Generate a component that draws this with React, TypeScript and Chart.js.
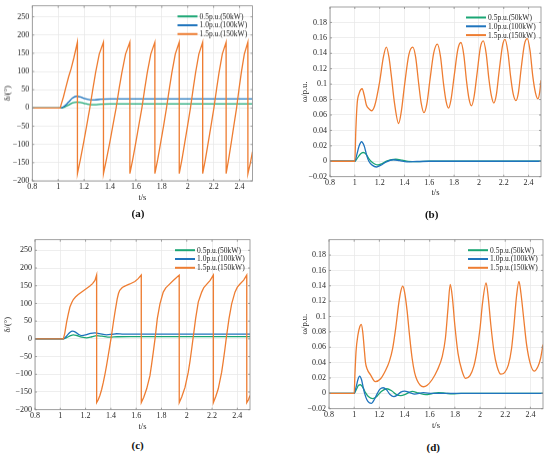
import React, { useEffect, useRef } from "react";
import { Chart, registerables } from "chart.js";

Chart.register(...registerables);

type Pt = [number, number];

const seriesNames = ["0.5p.u.(50kW)", "1.0p.u.(100kW)", "1.5p.u.(150kW)"];
const seriesColors = ["#1ba674", "#1f74bd", "#ee7d32"];

const xTicks = [0.8, 1, 1.2, 1.4, 1.6, 1.8, 2, 2.2, 2.4];
const deltaTicks = [-200, -150, -100, -50, 0, 50, 100, 150, 200, 250];
const omegaTicks = [-0.02, 0, 0.02, 0.04, 0.06, 0.08, 0.1, 0.12, 0.14, 0.16, 0.18];

// (a) power angle
const aGreen: Pt[] = [
  [0.8, 0], [1.02, 0], [1.05, 3], [1.08, 8], [1.11, 13.5], [1.14, 16], [1.17, 15], [1.2, 12.5],
  [1.24, 9.5], [1.28, 9], [1.33, 10.2], [1.4, 11], [1.6, 11], [2.5, 11],
];
const aBlue: Pt[] = [
  [0.8, 0], [1.02, 0], [1.05, 6], [1.08, 16], [1.11, 27], [1.14, 32], [1.17, 30.5], [1.2, 26],
  [1.24, 22.5], [1.28, 22], [1.33, 24], [1.4, 25], [1.6, 25], [2.5, 25],
];
const aOrange: Pt[] = [
  [0.8, 0], [1.015, 0], [1.04, 30], [1.06, 58], [1.08, 85], [1.1, 108], [1.12, 136], [1.148, 180],
  [1.1485, -180], [1.172, -140], [1.196, -95], [1.22, -48], [1.244, 0], [1.269, 55], [1.289, 98], [1.317, 148], [1.349, 180],
  [1.3495, -180], [1.373, -140], [1.398, -95], [1.422, -48], [1.447, 0], [1.471, 55], [1.492, 98], [1.52, 148], [1.553, 180],
  [1.5535, -180], [1.576, -140], [1.599, -95], [1.622, -48], [1.646, 0], [1.669, 55], [1.688, 98], [1.715, 148], [1.746, 180],
  [1.7465, -180], [1.769, -140], [1.791, -95], [1.814, -48], [1.836, 0], [1.859, 55], [1.878, 98], [1.904, 148], [1.934, 180],
  [1.9345, -180], [1.956, -140], [1.977, -95], [1.999, -48], [2.021, 0], [2.043, 55], [2.061, 98], [2.086, 148], [2.115, 180],
  [2.1155, -180], [2.137, -140], [2.158, -95], [2.18, -48], [2.202, 0], [2.224, 55], [2.242, 98], [2.267, 148], [2.296, 180],
  [2.2965, -180], [2.316, -140], [2.336, -95], [2.356, -48], [2.377, 0], [2.397, 55], [2.414, 98], [2.437, 148], [2.464, 180],
  [2.4645, -180], [2.484, -150], [2.5, -120],
];

// (b) angular frequency
const bGreen: Pt[] = [
  [0.8, 0], [1.0, 0], [1.02, 0.004], [1.045, 0.0095], [1.067, 0.0114], [1.09, 0.0095], [1.11, 0.004],
  [1.13, 0], [1.16, -0.0035], [1.187, -0.0048], [1.22, -0.003], [1.26, 0.0005], [1.33, 0.0026],
  [1.38, 0.0015], [1.43, 0], [1.5, -0.0005], [1.6, 0], [2.5, 0],
];
const bBlue: Pt[] = [
  [0.8, 0], [1.0, 0], [1.015, 0.008], [1.035, 0.02], [1.054, 0.0253], [1.075, 0.02], [1.095, 0.008],
  [1.113, 0], [1.14, -0.005], [1.174, -0.0074], [1.21, -0.005], [1.25, -0.001], [1.31, 0.002],
  [1.36, 0.0008], [1.42, -0.0008], [1.5, -0.0003], [1.6, 0], [2.5, 0],
];
const bOrange: Pt[] = [
  [0.8, 0], [1.0, 0], [1.008, 0.04], [1.019, 0.075], [1.035, 0.088], [1.059, 0.094], [1.075, 0.086],
  [1.093, 0.073], [1.115, 0.068], [1.134, 0.0655], [1.16, 0.072], [1.2, 0.103], [1.23, 0.135],
  [1.254, 0.148], [1.275, 0.135], [1.294, 0.111], [1.32, 0.075], [1.353, 0.049], [1.375, 0.065],
  [1.4, 0.098], [1.435, 0.138], [1.467, 0.148], [1.49, 0.135], [1.515, 0.1], [1.535, 0.075],
  [1.557, 0.063], [1.58, 0.074], [1.605, 0.105], [1.635, 0.14], [1.665, 0.152], [1.69, 0.136],
  [1.715, 0.1], [1.735, 0.078], [1.755, 0.069], [1.775, 0.08], [1.8, 0.11], [1.83, 0.145],
  [1.855, 0.154], [1.878, 0.138], [1.9, 0.104], [1.92, 0.081], [1.94, 0.072], [1.96, 0.083],
  [1.985, 0.114], [2.012, 0.148], [2.035, 0.156], [2.058, 0.14], [2.08, 0.107], [2.1, 0.085],
  [2.12, 0.0755], [2.14, 0.086], [2.163, 0.117], [2.19, 0.15], [2.21, 0.158], [2.233, 0.142],
  [2.255, 0.11], [2.275, 0.088], [2.298, 0.0786], [2.318, 0.089], [2.34, 0.12], [2.367, 0.152],
  [2.39, 0.159], [2.412, 0.143], [2.434, 0.11], [2.455, 0.089], [2.475, 0.081], [2.49, 0.09], [2.5, 0.105],
];

// (c) power angle
const cGreen: Pt[] = [
  [0.8, 0], [1.024, 0], [1.05, 3.5], [1.08, 9], [1.103, 11.3], [1.13, 9.5], [1.17, 5], [1.208, 2.8],
  [1.25, 6], [1.287, 9], [1.33, 7.5], [1.392, 4.7], [1.45, 6], [1.55, 6.3], [2.5, 6.3],
];
const cBlue: Pt[] = [
  [0.8, 0], [1.024, 0], [1.05, 8], [1.075, 18], [1.097, 21.7], [1.12, 19], [1.145, 12.5], [1.168, 9.4],
  [1.2, 11], [1.24, 15.5], [1.274, 17], [1.31, 15], [1.366, 11.5], [1.41, 13], [1.445, 14.5],
  [1.5, 13.5], [1.6, 13.5], [2.5, 13.5],
];
const cOrange: Pt[] = [
  [0.8, 0], [1.024, 0], [1.035, 15], [1.05, 47], [1.063, 70], [1.076, 90], [1.09, 102], [1.103, 111],
  [1.12, 118], [1.142, 125], [1.18, 135], [1.21, 143], [1.234, 149], [1.255, 156], [1.274, 165], [1.287, 180],
  [1.2875, -180], [1.3, -172], [1.313, -160], [1.327, -143], [1.34, -123], [1.353, -100], [1.366, -75],
  [1.379, -47], [1.392, -19], [1.405, 10], [1.418, 42], [1.432, 75], [1.45, 113], [1.46, 128], [1.47, 137],
  [1.49, 145], [1.51, 149], [1.55, 155], [1.59, 162], [1.616, 170], [1.64, 180],
  [1.6405, -180], [1.66, -165], [1.683, -141], [1.709, -104], [1.722, -72], [1.735, -38], [1.749, 0],
  [1.767, 57], [1.788, 99], [1.814, 132], [1.834, 144], [1.854, 151], [1.893, 165], [1.915, 172], [1.94, 180],
  [1.9405, -180], [1.96, -164], [1.986, -137], [2.012, -94], [2.026, -62], [2.039, -28], [2.051, 5],
  [2.07, 57], [2.091, 104], [2.118, 132], [2.135, 145], [2.157, 154], [2.185, 165], [2.21, 180],
  [2.2105, -180], [2.23, -162], [2.249, -141], [2.276, -94], [2.289, -62], [2.302, -28], [2.315, 9],
  [2.334, 57], [2.355, 99], [2.381, 132], [2.4, 146], [2.421, 155], [2.45, 166], [2.474, 180],
  [2.4745, -180], [2.488, -172], [2.5, -160],
];

// (d) angular frequency
const dGreen: Pt[] = [
  [0.8, 0], [1.0, 0], [1.02, 0.006], [1.035, 0.0105], [1.05, 0.0112], [1.07, 0.0075], [1.09, 0.001],
  [1.115, -0.0045], [1.148, -0.0069], [1.18, -0.004], [1.215, 0.0025], [1.26, 0.006], [1.3, 0.003],
  [1.335, -0.0015], [1.37, -0.003], [1.41, -0.001], [1.46, 0.0026], [1.51, 0.0005], [1.57, -0.0018],
  [1.62, -0.0002], [1.67, 0.001], [1.73, 0], [1.78, -0.0006], [1.85, 0], [2.5, 0],
];
const dBlue: Pt[] = [
  [0.8, 0], [1.0, 0], [1.015, 0.008], [1.03, 0.018], [1.043, 0.0225], [1.058, 0.018], [1.07, 0.009],
  [1.083, 0], [1.1, -0.008], [1.12, -0.0122], [1.138, -0.013], [1.16, -0.008], [1.184, 0],
  [1.205, 0.0055], [1.23, 0.0073], [1.255, 0.005], [1.285, -0.0015], [1.315, -0.0043], [1.345, -0.002],
  [1.37, 0.0015], [1.4, 0.003], [1.44, 0.001], [1.48, -0.001], [1.55, 0.0008], [1.62, 0], [2.5, 0],
];
const dOrange: Pt[] = [
  [0.8, 0], [1.0, 0], [1.006, 0.025], [1.015, 0.055], [1.03, 0.076], [1.045, 0.087], [1.056, 0.0898],
  [1.068, 0.08], [1.08, 0.058], [1.09, 0.04], [1.102, 0.032], [1.13, 0.024], [1.168, 0.0152],
  [1.21, 0.019], [1.25, 0.03], [1.28, 0.042], [1.305, 0.058], [1.33, 0.085], [1.355, 0.118],
  [1.372, 0.134], [1.386, 0.1395], [1.4, 0.132], [1.42, 0.108], [1.44, 0.075], [1.46, 0.046],
  [1.48, 0.027], [1.5, 0.017], [1.525, 0.0105], [1.55, 0.0086], [1.58, 0.0105], [1.62, 0.018],
  [1.66, 0.03], [1.7, 0.048], [1.725, 0.072], [1.745, 0.11], [1.763, 0.1417], [1.78, 0.125],
  [1.8, 0.088], [1.825, 0.052], [1.855, 0.03], [1.885, 0.0194], [1.92, 0.023], [1.95, 0.035],
  [1.975, 0.055], [2.0, 0.085], [2.02, 0.118], [2.048, 0.1438], [2.065, 0.125], [2.085, 0.09],
  [2.11, 0.055], [2.135, 0.035], [2.165, 0.025], [2.195, 0.027], [2.225, 0.037], [2.25, 0.058],
  [2.27, 0.09], [2.29, 0.127], [2.309, 0.1456], [2.325, 0.13], [2.345, 0.1], [2.37, 0.063],
  [2.4, 0.038], [2.43, 0.029], [2.46, 0.035], [2.48, 0.045], [2.5, 0.0635],
];

const serif = '"Liberation Serif", "Times New Roman", serif';
const textColor = "#262626";
const frameColor = "#8a8a8a";

const fmt = (v: number | string) => String(v).replace("-", "\u2212");

// box, inward ticks and the legend, drawn like the MATLAB axes
const framePlugin = {
  id: "frame",
  afterDraw(chart: any) {
    const { ctx, chartArea, scales } = chart;
    const { left, top, right, bottom } = chartArea;
    ctx.save();
    ctx.strokeStyle = frameColor;
    ctx.lineWidth = 0.8;
    ctx.strokeRect(left, top, right - left, bottom - top);
    ctx.beginPath();
    scales.x.ticks.forEach((t: any) => {
      const px = scales.x.getPixelForValue(t.value);
      ctx.moveTo(px, bottom);
      ctx.lineTo(px, bottom - 2);
      ctx.moveTo(px, top);
      ctx.lineTo(px, top + 2);
    });
    scales.y.ticks.forEach((t: any) => {
      const py = scales.y.getPixelForValue(t.value);
      ctx.moveTo(left, py);
      ctx.lineTo(left + 2, py);
      ctx.moveTo(right, py);
      ctx.lineTo(right - 2, py);
    });
    ctx.stroke();

    ctx.font = `7.5px ${serif}`;
    ctx.textBaseline = "middle";
    ctx.textAlign = "left";
    chart.data.datasets.forEach((ds: any, i: number) => {
      const y = top + 10.5 + i * 8.8;
      ctx.strokeStyle = ds.borderColor;
      ctx.lineWidth = 2;
      ctx.beginPath();
      ctx.moveTo(right - 75, y);
      ctx.lineTo(right - 55, y);
      ctx.stroke();
      ctx.fillStyle = textColor;
      ctx.fillText(ds.label, right - 53, y + 0.5);
    });
    ctx.restore();
  },
};

interface PanelProps {
  series: Pt[][];
  sharp: boolean;
  yMin: number;
  yMax: number;
  yTicks: number[];
  yTitle: string;
  area: [number, number, number, number];
  left: number;
  top: number;
  xTitleY: number;
  yTitleX: number;
}

const Panel: React.FC<PanelProps> = ({ series, sharp, yMin, yMax, yTicks, yTitle, area, left, top, xTitleY, yTitleX }) => {
  const chartRef = useRef<HTMLCanvasElement>(null);
  const chartInstance = useRef<Chart>();
  const [L, T, R, B] = area;
  const width = 275;
  const height = xTitleY + 5.1 - top;

  useEffect(() => {
    if (!chartRef.current) return;
    const ctx = chartRef.current.getContext("2d");
    if (!ctx) return;
    if (chartInstance.current) chartInstance.current.destroy();

    const tickFont = { family: serif, size: 8 };
    const titleFont = { family: serif, size: 8.5 };

    chartInstance.current = new Chart(ctx, {
      type: "line",
      data: {
        datasets: series.map((s, i) => ({
          label: seriesNames[i],
          data: s.map(([x, y]) => ({ x, y })),
          borderColor: seriesColors[i],
          backgroundColor: seriesColors[i],
          borderWidth: 1.3,
          pointRadius: 0,
          fill: false,
          order: 2 - i,
          tension: 0,
          cubicInterpolationMode: sharp && i === 2 ? "default" : "monotone",
        })),
      },
      options: {
        animation: false,
        responsive: true,
        maintainAspectRatio: false,
        events: [],
        layout: { padding: { left: 0, top: T - top, right: left + width - R, bottom: 0 } },
        plugins: { legend: { display: false }, tooltip: { enabled: false } },
        scales: {
          x: {
            type: "linear",
            min: 0.8,
            max: 2.5,
            afterBuildTicks: (s: any) => {
              s.ticks = xTicks.map((value) => ({ value }));
            },
            afterFit: (s: any) => {
              s.height = top + height - B;
            },
            grid: { color: "#e6e6e6", lineWidth: 0.7, drawTicks: false },
            border: { display: false },
            ticks: { padding: 1, font: tickFont, color: textColor, maxRotation: 0, autoSkip: false, callback: (v: any) => fmt(v) },
            title: { display: true, text: "t/s", font: titleFont, color: textColor, padding: 0 },
          },
          y: {
            type: "linear",
            min: yMin,
            max: yMax,
            afterBuildTicks: (s: any) => {
              s.ticks = yTicks.map((value) => ({ value }));
            },
            afterFit: (s: any) => {
              s.width = L - left;
            },
            grid: { color: "#e6e6e6", lineWidth: 0.7, drawTicks: false },
            border: { display: false },
            ticks: { padding: 3, font: tickFont, color: textColor, autoSkip: false, callback: (v: any) => fmt(v) },
            title: { display: true, text: yTitle, font: titleFont, color: textColor, padding: { top: yTitleX - left - 5.1, bottom: 0 } },
          },
        },
      },
      plugins: [framePlugin],
    } as any);

    return () => {
      if (chartInstance.current) {
        chartInstance.current.destroy();
        chartInstance.current = undefined;
      }
    };
  }, [series]);

  return (
    <div style={{ position: "absolute", left, top, width, height }}>
      <canvas ref={chartRef} />
    </div>
  );
};

const Caption: React.FC<{ text: string; x: number; y: number }> = ({ text, x, y }) => (
  <div
    style={{
      position: "absolute",
      left: x,
      top: y,
      transform: "translate(-50%, -50%)",
      fontFamily: serif,
      fontWeight: "bold",
      fontSize: 11,
      lineHeight: 1,
      color: "#111",
      whiteSpace: "nowrap",
    }}
  >
    {text}
  </div>
);

const seriesA = [aGreen, aBlue, aOrange];
const seriesB = [bGreen, bBlue, bOrange];
const seriesC = [cGreen, cBlue, cOrange];
const seriesD = [dGreen, dBlue, dOrange];

export default function App() {
  return (
    <div style={{ position: "absolute", left: 0, top: 0, width: 550, height: 454, background: "#fff", overflow: "hidden" }}>
      <Panel series={seriesA} sharp yMin={-200} yMax={280} yTicks={deltaTicks} yTitle="δ/(°)"
        area={[32.3, 5.7, 252.5, 180]} left={0} top={-20} xTitleY={196.5} yTitleX={8} />
      <Panel series={seriesB} sharp={false} yMin={-0.02} yMax={0.2} yTicks={omegaTicks} yTitle="ω/p.u."
        area={[330, 7, 541, 176.7]} left={275} top={-20} xTitleY={192.3} yTitleX={305} />
      <Panel series={seriesC} sharp yMin={-200} yMax={280} yTicks={deltaTicks} yTitle="δ/(°)"
        area={[35, 239.7, 250, 409.7]} left={0} top={207} xTitleY={426.3} yTitleX={7.5} />
      <Panel series={seriesD} sharp={false} yMin={-0.02} yMax={0.2} yTicks={omegaTicks} yTitle="ω/p.u."
        area={[329, 239.7, 543, 408.7]} left={275} top={207} xTitleY={426} yTitleX={304.3} />
      <Caption text="(a)" x={138} y={212.7} />
      <Caption text="(b)" x={431.7} y={214} />
      <Caption text="(c)" x={137.7} y={445.3} />
      <Caption text="(d)" x={433.3} y={447} />
    </div>
  );
}
